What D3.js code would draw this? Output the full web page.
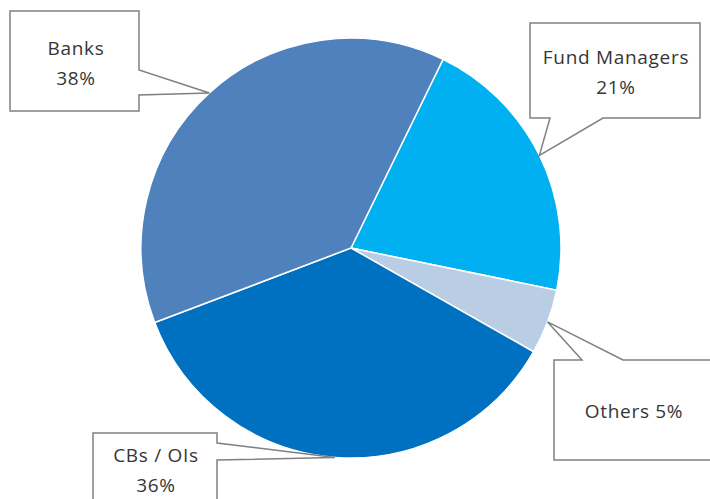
<!DOCTYPE html>
<meta charset="utf-8">
<style>
html, body {
    margin: 0;
    background: white;
}
.slice {
    stroke: #fff;
    stroke-width: 1.5px;
}
.callout {
    fill: #fff;
    stroke: #808080;
    stroke-width: 1.5px;
    stroke-linejoin: miter;
}
.callout-text {
    font-family: "Open Sans", sans-serif;
    font-size: 19px;
    letter-spacing: 0.7px;
    fill: #363636;
    text-anchor: middle;
}
</style>
<body>
<script src="https://cdnjs.cloudflare.com/ajax/libs/d3/7.8.5/d3.min.js"></script>
<script>

var width = 710,
    height = 499;

// data, in drawing order (clockwise)
var categories = ["Fund Managers", "Others", "CBs / OIs", "Banks"];
var shares = [21, 5, 36, 38];
var colors = ["#00B0F0", "#B9CDE5", "#0070C0", "#4F81BD"];
var labelLines = [["Fund Managers", "21%"], ["Others 5%"], ["CBs / OIs", "36%"], ["Banks", "38%"]];

// callout boxes: x0,y0,x1,y1, side the pointer leaves from, and the two base points along it
var callouts = [
    {box: [530, 23, 700, 118], side: "bottom", base: [550, 603], text: [616, 64]},
    {box: [554, 360, 730, 460], side: "top", base: [582, 623], text: [634, 418]},
    {box: [93, 433, 217, 520], side: "right", base: [443, 460], text: [156, 462]},
    {box: [10, 11, 139, 111], side: "right", base: [70, 95], text: [76, 55]}
];

var cx = 351, cy = 248, radius = 210;
var startAngle = 26 * Math.PI / 180;

var svg = d3.select("body").append("svg")
    .attr("width", width)
    .attr("height", height);

var pie = d3.pie()
    .sort(null)
    .startAngle(startAngle)
    .endAngle(startAngle + 2 * Math.PI);

var arc = d3.arc().innerRadius(0).outerRadius(radius);
var rimArc = d3.arc().innerRadius(radius).outerRadius(radius);

var arcs = pie(shares);

var g = svg.append("g")
    .attr("transform", "translate(" + cx + "," + cy + ")");

g.selectAll("path")
    .data(arcs)
  .enter().append("path")
    .attr("class", "slice")
    .attr("d", arc)
    .style("fill", (d, i) => colors[i]);

function calloutPath(c, tip) {
    var x0 = c.box[0], y0 = c.box[1], x1 = c.box[2], y1 = c.box[3];
    var a = c.base[0], b = c.base[1];
    var pts;
    if (c.side === "bottom") {
        pts = [[x0, y0], [x1, y0], [x1, y1], [b, y1], tip, [a, y1], [x0, y1]];
    } else if (c.side === "top") {
        pts = [[x0, y0], [a, y0], tip, [b, y0], [x1, y0], [x1, y1], [x0, y1]];
    } else {
        pts = [[x0, y0], [x1, y0], [x1, a], tip, [x1, b], [x1, y1], [x0, y1]];
    }
    return "M" + pts.map(p => p.join(",")).join("L") + "Z";
}

var labels = svg.append("g").attr("class", "labels");

arcs.forEach(function(d, i) {
    var t = rimArc.centroid(d);
    var tip = [cx + t[0], cy + t[1]];
    var c = callouts[i];
    labels.append("path")
        .attr("class", "callout")
        .attr("d", calloutPath(c, tip));
    var txt = labels.append("text")
        .attr("class", "callout-text")
        .attr("x", c.text[0])
        .attr("y", c.text[1]);
    labelLines[i].forEach(function(line, j) {
        txt.append("tspan")
            .attr("x", c.text[0])
            .attr("dy", j === 0 ? 0 : 30)
            .text(line);
    });
});

</script>
</body>
